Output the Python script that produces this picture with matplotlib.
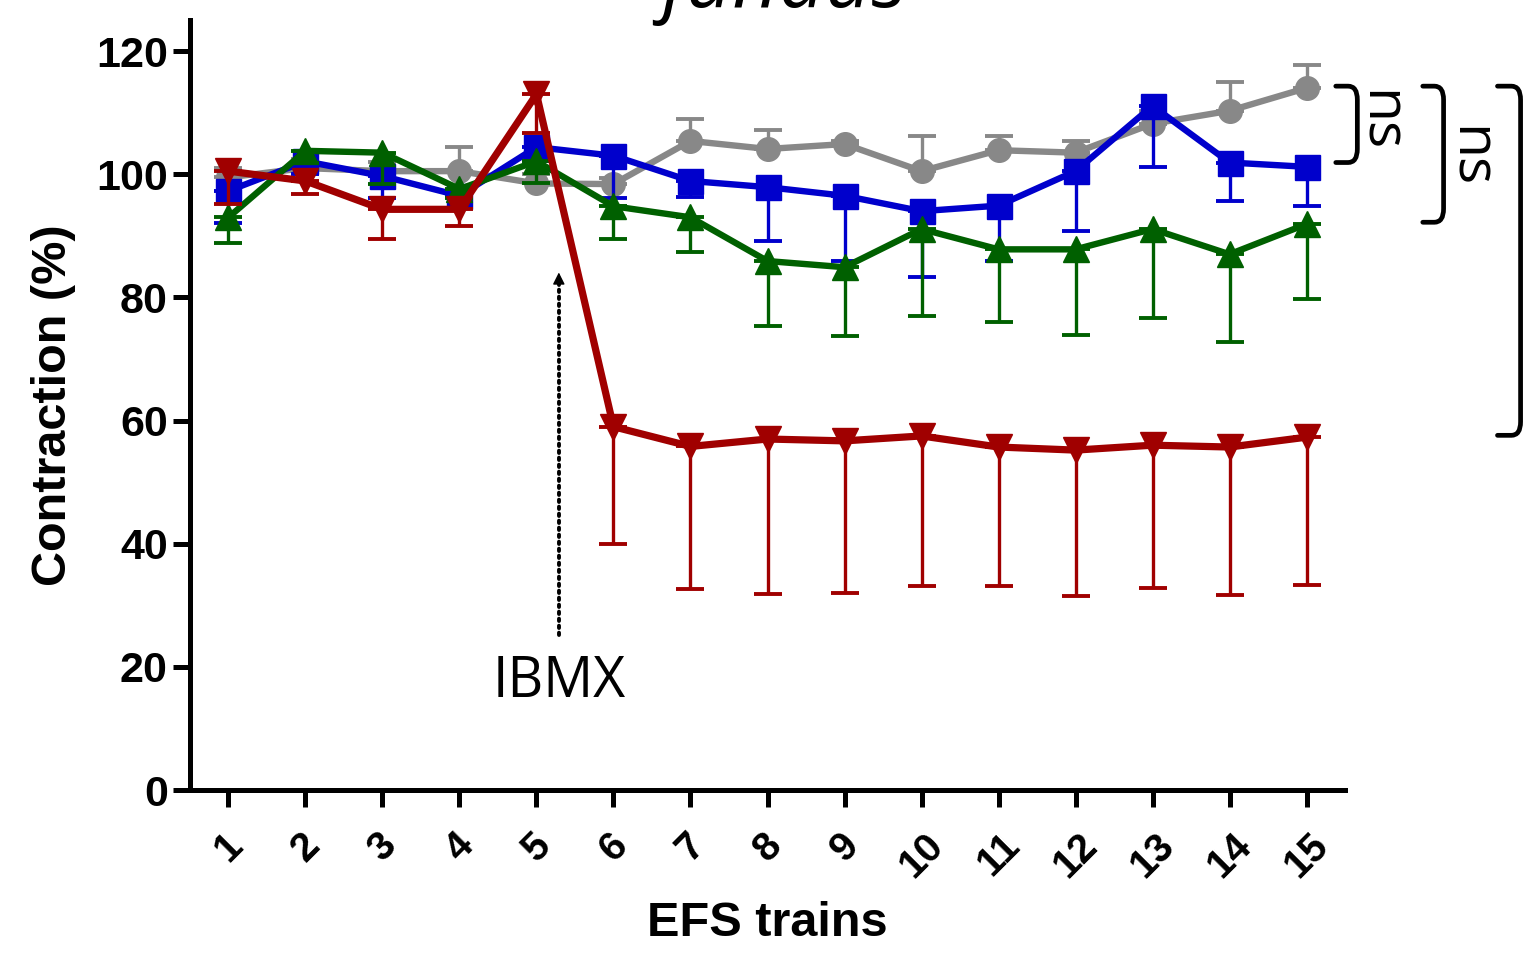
import matplotlib
matplotlib.use("Agg")
import matplotlib.pyplot as plt
from matplotlib.path import Path
from matplotlib.patches import PathPatch

# EFS train number
trains = list(range(1, 16))

gray_mean = [99.5, 101.0, 100.5, 100.5, 98.5, 98.4, 105.4, 104.1, 104.9, 100.5, 103.9, 103.5, 108.2, 110.3, 114.0]
gray_err = [1.5, 1.5, 1.5, 4.0, 1.5, 1.0, 3.6, 3.1, 0.5, 5.7, 2.3, 1.9, 2.0, 4.7, 3.7]

blue_mean = [97.3, 102.1, 99.7, 96.5, 104.4, 103.0, 98.9, 97.9, 96.5, 94.0, 94.9, 100.5, 111.1, 101.9, 101.2]
blue_err = [5.3, 2.0, 3.5, 2.0, 2.2, 6.8, 2.6, 8.7, 10.6, 10.7, 9.0, 9.7, 10.0, 6.2, 6.3]

green_mean = [93.0, 103.8, 103.5, 97.6, 102.1, 94.8, 93.0, 85.9, 84.9, 91.1, 87.8, 87.8, 91.1, 87.0, 91.9]
green_err = [4.1, 2.0, 5.1, 1.5, 3.5, 5.3, 5.6, 10.6, 11.1, 14.1, 11.8, 13.9, 14.5, 14.3, 12.1]

red_mean = [100.5, 98.9, 94.3, 94.3, 113.0, 59.0, 55.8, 57.0, 56.7, 57.5, 55.7, 55.2, 56.0, 55.7, 57.3]
red_err = [5.3, 2.1, 4.8, 2.7, 6.3, 19.0, 23.2, 25.2, 24.7, 24.3, 22.6, 23.7, 23.2, 24.1, 24.0]

y_ticks = [0, 20, 40, 60, 80, 100, 120]

# significance brackets: (top, bottom, label)
brackets = [(114.3, 101.9, "ns"), (114.3, 92.2, "ns"), (114.3, 57.6, "")]

BOLD = dict(family="Liberation Sans", weight="bold")

fig = plt.figure(figsize=(15.26, 9.65), dpi=100)
ax = fig.add_axes([0.1245, 0.1813, 0.7569, 0.7977])

zero = [0] * 15
series = [
    (gray_mean, [zero, gray_err], "#888888", "o", 17, 4.6),
    (blue_mean, [blue_err, zero], "#0000cc", "s", 18, 4.6),
    (green_mean, [green_err, zero], "#006000", "^", 19, 4.6),
    (red_mean, [red_err, zero], "#a00000", "v", 19, 5.2),
]
for z, (m, e, c, mk, ms, lw) in enumerate(series):
    ax.errorbar(trains, m, yerr=e, color=c, lw=lw, marker=mk, ms=ms, mec=c, mfc=c,
                elinewidth=2.4, capsize=10, capthick=2.8, zorder=3 + z)

ax.set_xlim(0.5, 15.5)
ax.set_ylim(0, 125)
ax.set_yticks(y_ticks)
ax.set_xticks(trains)
ax.set_xticklabels([str(t) for t in trains], rotation=45, fontsize=29, **BOLD)
ax.set_yticklabels([str(t) for t in y_ticks], fontsize=31, **BOLD)
for s in ["top", "right"]:
    ax.spines[s].set_visible(False)
for s in ["left", "bottom"]:
    ax.spines[s].set_linewidth(3.6)
ax.tick_params(length=12, width=3.6, pad=4)
ax.tick_params(axis="x", pad=14)
ax.set_xlabel("EFS trains", fontsize=35, labelpad=12, **BOLD)
ax.set_ylabel("Contraction (%)", fontsize=35, labelpad=14, **BOLD)

# IBMX arrow
ax.plot([5.29, 5.29], [25.1, 82.5], color="black", lw=2.8, ls=(0, (0.6, 1.2)),
        dash_capstyle="round", zorder=2)
ax.annotate("", xy=(5.29, 84.5), xytext=(5.29, 82.0),
            arrowprops=dict(arrowstyle="-|>", color="black", lw=1, mutation_scale=18))
ax.text(5.29, 17.4, "IBMX", ha="center", va="center", fontsize=40, family="Open Sans")

# brackets on the right
bx = [(15.38, 15.66), (16.51, 16.78), (17.48, 17.78)]
lbl_x = [15.93, 17.1]
for (top, bot, lab), (x0, x1) in zip(brackets, bx):
    rx, ry = 0.12, 2.2
    verts = [(x0, top), (x1 - rx, top), (x1, top), (x1, top - ry),
             (x1, bot + ry), (x1, bot), (x1 - rx, bot), (x0, bot)]
    codes = [Path.MOVETO, Path.LINETO, Path.CURVE3, Path.CURVE3,
             Path.LINETO, Path.CURVE3, Path.CURVE3, Path.LINETO]
    ax.add_patch(PathPatch(Path(verts, codes), fill=False, lw=3.4, ec="black",
                           clip_on=False, capstyle="round"))
for x, (top, bot, lab) in zip(lbl_x, brackets):
    ax.text(x, (top + bot) / 2 + (0.5 if bot > 95 else -0.5), lab, rotation=-90, ha="center",
            va="center", fontsize=41, family="Open Sans", clip_on=False)

# title, mostly cut off at the top edge in the original
fig.text(0.514, 1 - 7 / 965, "fundus", ha="center", va="baseline", fontsize=58,
         style="italic", family="Open Sans")

fig.savefig("out.png", dpi=100)
